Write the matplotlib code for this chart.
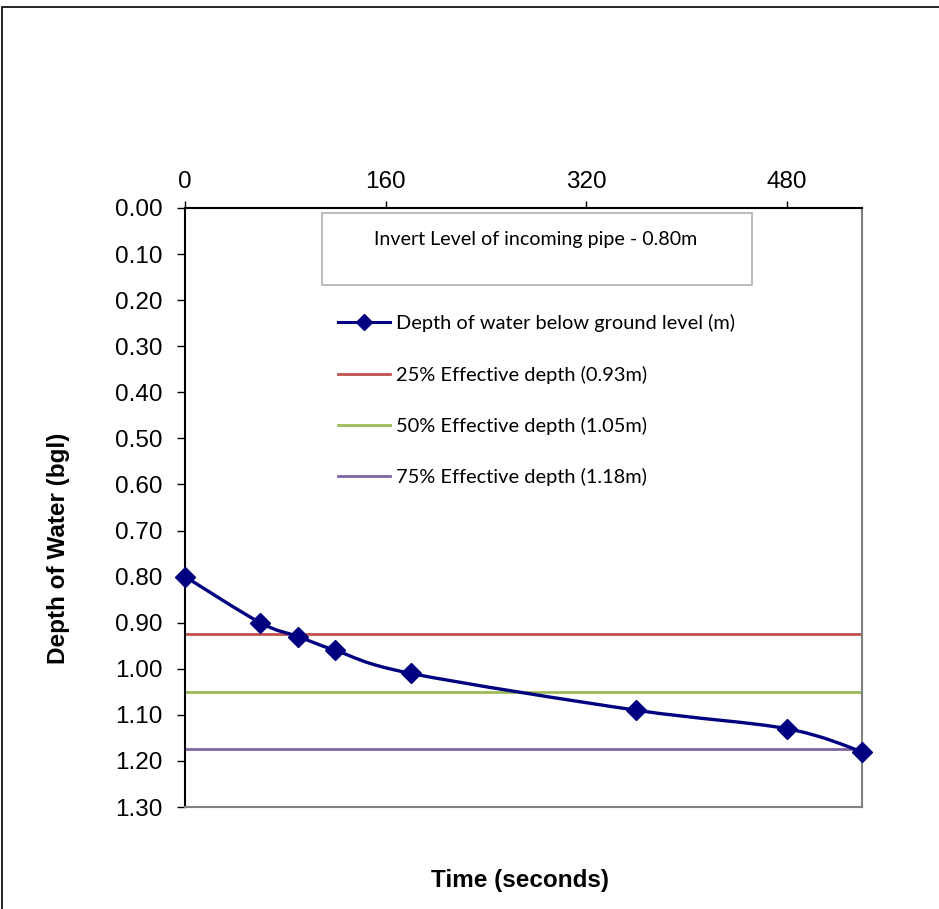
import numpy as np
import matplotlib.pyplot as plt
from matplotlib.path import Path
from matplotlib.patches import PathPatch, Rectangle
from matplotlib.lines import Line2D

# data
time_s = [0, 60, 90, 120, 180, 360, 480, 540]
depth_m = [0.80, 0.90, 0.93, 0.96, 1.01, 1.09, 1.13, 1.18]
eff_levels = [0.925, 1.05, 1.175]
eff_labels = ['25% Effective depth (0.93m)', '50% Effective depth (1.05m)', '75% Effective depth (1.18m)']
eff_colors = ['#C0504D', '#9BBB59', '#8064A2']
series_label = 'Depth of water below ground level (m)'
xticks = [0, 160, 320, 480]
yticks = [0.0, 0.1, 0.2, 0.3, 0.4, 0.5, 0.6, 0.7, 0.8, 0.9, 1.0, 1.1, 1.2, 1.3]

plt.rcParams['font.family'] = ['Liberation Sans', 'DejaVu Sans']
fig = plt.figure(figsize=(9.39, 9.09), dpi=100)
ax = fig.add_axes([185/939, 1-807/909, (862-185)/939, (807-208)/909])

# outer chart frame (runs off the right and bottom edges)
fig.patches.append(Rectangle((2/939, -0.05), 1.05, 1.05-7/909, transform=fig.transFigure,
                             fill=False, edgecolor='black', linewidth=1.2))

# horizontal effective depth lines
for lv, c in zip(eff_levels, eff_colors):
    ax.axhline(lv, color=c, linewidth=2, zorder=2)

# smoothed curve (bezier through points, excel-style)
pts = np.column_stack([time_s, depth_m]).astype(float)
verts = [tuple(pts[0])]
codes = [Path.MOVETO]
n = len(pts)
for i in range(n - 1):
    p0 = pts[i-1] if i > 0 else pts[i]
    p1 = pts[i]
    p2 = pts[i+1]
    p3 = pts[i+2] if i + 2 < n else pts[i+1]
    c1 = p1 + (p2 - p0) / 6
    c2 = p2 - (p3 - p1) / 6
    verts += [tuple(c1), tuple(c2), tuple(p2)]
    codes += [Path.CURVE4] * 3
ax.add_patch(PathPatch(Path(verts, codes), facecolor='none', edgecolor='#000080',
                       linewidth=2.4, zorder=3, clip_on=False))
ax.plot(time_s, depth_m, linestyle='none', marker='D', markersize=10,
        color='#000080', zorder=4, clip_on=False)

ax.set_xlim(0, 540)
ax.set_ylim(1.3, 0.0)
ax.xaxis.tick_top()
ax.set_xticks(xticks)
ax.set_yticks(yticks)
ax.set_yticklabels([f'{v:.2f}' for v in yticks])
ax.tick_params(axis='both', labelsize=17.5, direction='out', length=6, width=1, colors='black')
ax.tick_params(axis='y', pad=10)
ax.tick_params(axis='x', pad=6, length=5)
ax.spines['left'].set_color('black')
ax.spines['top'].set_color('black')
ax.spines['right'].set_color('#808080')
ax.spines['bottom'].set_color('#808080')
for s in ax.spines.values():
    s.set_linewidth(1.5)

fig.text(58/939, 1-548/909, 'Depth of Water (bgl)', rotation=90, ha='center', va='center',
         fontsize=17.5, fontweight='bold')
fig.text(520/939, 1-880/909, 'Time (seconds)', ha='center', va='center',
         fontsize=17.5, fontweight='bold')

# invert level text box
fig.patches.append(Rectangle((322/939, 1-285/909), (752-322)/939, (285-213)/909,
                             transform=fig.transFigure, fill=False,
                             edgecolor='#B0B0B0', linewidth=1.2))
fig.text(536/939, 1-239/909, 'Invert Level of incoming pipe - 0.80m', ha='center',
         va='center', fontsize=14.1, family=['Lato', 'DejaVu Sans'])

handles = [Line2D([], [], color='#000080', linewidth=2.2, marker='D', markersize=8)]
handles += [Line2D([], [], color=c, linewidth=2) for c in eff_colors]
labels = [series_label] + eff_labels
fig.legend(handles, labels, loc='upper left', bbox_to_anchor=(320/939, 1-296/909),
           frameon=False, handlelength=2.6, handletextpad=0.3, labelspacing=1.67,
           prop={'family': ['Lato', 'DejaVu Sans'], 'size': 14.4})

fig.savefig('out.png', dpi=100)
